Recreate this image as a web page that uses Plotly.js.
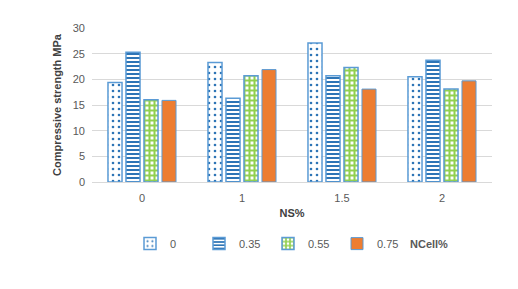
<!DOCTYPE html>
<html>
<head>
<meta charset="utf-8">
<script src="https://cdn.plot.ly/plotly-3.0.1.min.js"></script>
<style>html,body{margin:0;padding:0;background:#fff;}#chart{width:518px;height:289px;}</style>
</head>
<body>
<div id="chart"></div>
<script>
const categories = ["0", "1", "1.5", "2"];
const seriesNames = ["0", "0.35", "0.55", "0.75"];
const s0 = [19.4, 23.3, 27.1, 20.5];
const s035 = [25.3, 16.3, 20.7, 23.7];
const s055 = [16.0, 20.7, 22.3, 18.1];
const s075 = [15.9, 21.9, 18.1, 19.7];
const yTicks = [0, 5, 10, 15, 20, 25, 30];

const outline = "#5B9BD5";
const traces = [
  {name: seriesNames[0], y: s0, marker: {color: "#ffffff", line: {color: outline, width: 1.5},
    pattern: {shape: ".", fgcolor: "#2E75B6", bgcolor: "#ffffff", size: 6, solidity: 0.15}}},
  {name: seriesNames[1], y: s035, marker: {color: "#ffffff", line: {color: outline, width: 1.5},
    pattern: {shape: "-", fgcolor: "#2E75B6", bgcolor: "#ffffff", size: 4, solidity: 0.5}}},
  {name: seriesNames[2], y: s055, marker: {color: "#ffffff", line: {color: outline, width: 1.5},
    pattern: {shape: "+", fgcolor: "#92D050", bgcolor: "#ffffff", size: 5, solidity: 0.65}}},
  {name: seriesNames[3], y: s075, marker: {color: "#ED7D31", line: {color: outline, width: 1}}}
].map(t => Object.assign({type: "bar", x: categories}, t));

const layout = {
  width: 518, height: 289,
  margin: {l: 92, r: 26, t: 28, b: 107},
  paper_bgcolor: "#ffffff", plot_bgcolor: "#ffffff",
  font: {family: "Liberation Sans, Arial, sans-serif", size: 11, color: "#595959"},
  barmode: "group", bargap: 0.28, bargroupgap: 0.22,
  xaxis: {type: "category", showgrid: false, showline: false, ticks: "", ticklabelstandoff: 8,
    tickfont: {size: 11, color: "#595959"},
    title: {text: "<b>NS%</b>", font: {size: 11, color: "#404040"}, standoff: 6}},
  yaxis: {range: [0, 30], tickvals: yTicks, showgrid: true, gridcolor: "#D9D9D9", gridwidth: 1,
    zeroline: true, zerolinecolor: "#D9D9D9", showline: false, ticks: "", ticklabelstandoff: 6,
    tickfont: {size: 11, color: "#595959"},
    title: {text: "<b>Compressive strength MPa</b>", font: {size: 11, color: "#404040"}, standoff: 8}},
  showlegend: true,
  legend: {orientation: "h", x: 0.095, xanchor: "left", y: -0.40, yanchor: "middle",
    font: {size: 11, color: "#595959"}, itemwidth: 30, traceorder: "normal",
    entrywidth: 24, entrywidthmode: "pixels"},
  annotations: [{text: "<b>NCell%</b>", x: 0.79, xref: "paper", y: -0.40, yref: "paper",
    xanchor: "left", yanchor: "middle", showarrow: false, font: {size: 11, color: "#595959"}}]
};

Plotly.newPlot("chart", traces, layout, {displayModeBar: false, staticPlot: true});
</script>
</body>
</html>
